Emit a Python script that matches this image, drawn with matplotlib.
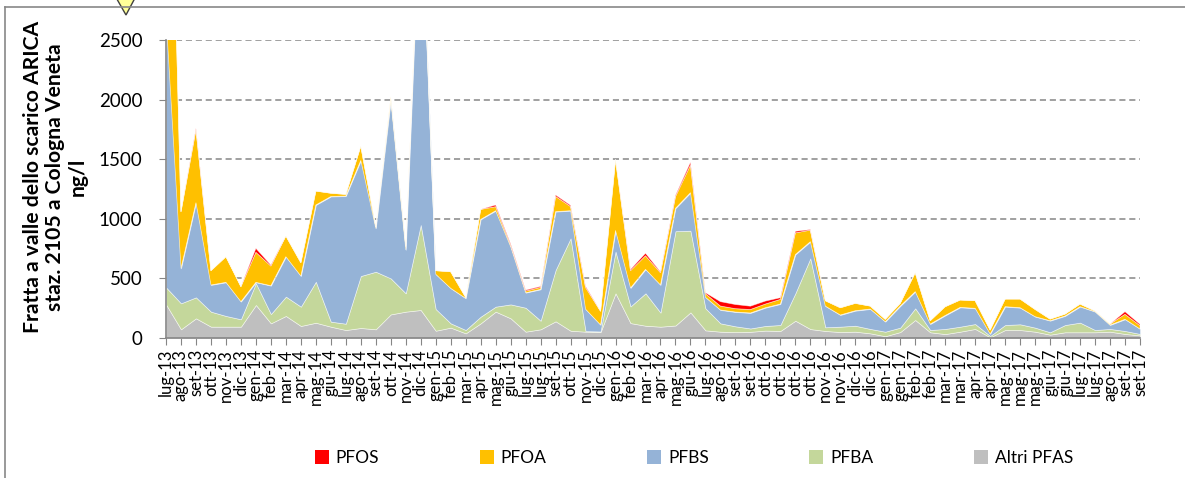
import numpy as np
import matplotlib
matplotlib.use('Agg')
import matplotlib.pyplot as plt
from matplotlib.patches import Polygon, Patch
from matplotlib.lines import Line2D

plt.rcParams['font.family'] = ['Lato', 'DejaVu Sans']

# month labels (as printed on the axis)
months = ['lug-13', 'ago-13', 'set-13', 'ott-13', 'nov-13', 'dic-13',
          'gen-14', 'feb-14', 'mar-14', 'apr-14', 'mag-14', 'giu-14',
          'lug-14', 'ago-14', 'set-14', 'ott-14', 'nov-14', 'dic-14',
          'gen-15', 'feb-15', 'mar-15', 'apr-15', 'mag-15', 'giu-15',
          'lug-15', 'lug-15', 'set-15', 'ott-15', 'nov-15', 'dic-15',
          'gen-16', 'feb-16', 'mar-16', 'apr-16', 'mag-16', 'giu-16',
          'lug-16', 'ago-16', 'set-16', 'set-16', 'ott-16', 'ott-16',
          'ott-16', 'ott-16', 'nov-16', 'nov-16', 'dic-16', 'dic-16',
          'gen-17', 'gen-17', 'feb-17', 'feb-17', 'mar-17', 'mar-17',
          'apr-17', 'apr-17', 'mag-17', 'mag-17', 'mag-17', 'giu-17',
          'giu-17', 'lug-17', 'lug-17', 'ago-17', 'set-17', 'set-17']

# ng/l
altri = [282, 73, 165, 95, 95, 95, 277, 123, 185, 101, 128, 95, 67, 84,
         73, 198, 221, 235, 61, 87, 39, 123, 221, 165, 53, 73, 140, 61,
         53, 50, 375, 125, 103, 95, 105, 215, 64, 53, 49, 52, 62, 59,
         145, 75, 59, 50, 53, 39, 15, 50, 151, 48, 33, 53, 76, 6,
         67, 67, 53, 28, 48, 48, 48, 53, 34, 22]
pfba = [143, 218, 176, 126, 90, 62, 182, 78, 162, 162, 344, 42, 53, 436,
        483, 302, 154, 713, 182, 36, 28, 56, 42, 117, 201, 72, 430, 775,
        5, 5, 350, 140, 272, 118, 791, 685, 185, 70, 49, 28, 39, 50,
        230, 593, 31, 45, 50, 37, 38, 37, 98, 19, 43, 42, 41, 11,
        42, 48, 34, 20, 61, 81, 19, 23, 25, 12]
pfbs = [2275, 293, 794, 224, 282, 148, 8, 238, 335, 257, 644, 1050, 1071, 970,
        364, 1496, 365, 2850, 292, 294, 266, 816, 805, 484, 126, 263, 490, 232,
        184, 55, 177, 155, 201, 232, 192, 319, 93, 112, 120, 130, 153, 176,
        325, 140, 178, 98, 126, 167, 84, 181, 140, 50, 113, 162, 132, 17,
        154, 139, 92, 97, 76, 134, 154, 33, 98, 42]
pfoa = [3300, 476, 614, 120, 215, 126, 252, 165, 174, 112, 117, 28, 14, 120,
        14, 28, 30, 50, 30, 139, 8, 84, 34, 14, 14, 17, 128, 35,
        182, 115, 595, 145, 114, 103, 98, 232, 30, 33, 28, 29, 31, 39,
        182, 97, 45, 61, 62, 25, 20, 23, 159, 28, 74, 62, 64, 33,
        64, 73, 61, 14, 16, 22, 6, 8, 42, 28]
pfos = [0, 0, 10, 0, 0, 0, 33, 8, 0, 0, 0, 0, 0, 0,
        0, 0, 0, 0, 0, 0, 0, 0, 14, 10, 8, 8, 12, 10,
        10, 0, 0, 10, 21, 7, 10, 23, 8, 37, 35, 28, 25, 14,
        13, 5, 0, 0, 0, 0, 0, 0, 0, 0, 0, 0, 0, 0,
        0, 0, 0, 0, 0, 0, 0, 0, 22, 11]

names = ['PFOS', 'PFOA', 'PFBS', 'PFBA', 'Altri PFAS']
colors = {'PFOS': '#FF0000', 'PFOA': '#FFC000', 'PFBS': '#95B3D7',
          'PFBA': '#C4D79B', 'Altri PFAS': '#BFBFBF'}

fig = plt.figure(figsize=(11.85, 4.78), dpi=100)
W, H = 1185, 478
ax = fig.add_axes([166 / W, 1 - 338 / H, (1140 - 166) / W, 298 / H])

x = np.arange(len(months))
ax.stackplot(x, altri, pfba, pfbs, pfoa, pfos,
             colors=[colors['Altri PFAS'], colors['PFBA'], colors['PFBS'],
                     colors['PFOA'], colors['PFOS']],
             edgecolor=(1, 1, 1, 0.6), linewidth=0.5, zorder=2)

ax.set_xlim(0, len(months) - 1)
ax.set_ylim(0, 2500)
ax.set_yticks(np.arange(0, 2501, 500))
ax.set_xticks(x)
ax.set_xticklabels(months, rotation=90, fontsize=12, va='top')
ax.tick_params(axis='y', labelsize=13.5, length=5, color='#868686', pad=12)
ax.tick_params(axis='x', length=5, color='#868686', pad=3)

for v in range(500, 2501, 500):
    ax.axhline(v, color='#868686', lw=1.1, ls=(0, (4, 2.5)), zorder=1)

for s in ['top', 'right']:
    ax.spines[s].set_visible(False)
for s in ['left', 'bottom']:
    ax.spines[s].set_color('#868686')
    ax.spines[s].set_linewidth(1.2)
    ax.spines[s].set_zorder(3)

fig.text(55 / W, 1 - 177 / H,
         'Fratta a valle dello scarico ARICA\nstaz. 2105 a Cologna Veneta\nng/l',
         rotation=90, ha='center', va='center', multialignment='center',
         fontsize=15.2, fontweight='bold', linespacing=1.15)

handles = [Patch(facecolor=colors[n], edgecolor='none') for n in names]
fig.legend(handles, names, loc='center', ncol=5, frameon=False,
           bbox_to_anchor=(694 / W, 1 - 458 / H), fontsize=12.5,
           handlelength=0.8, handleheight=0.8, handletextpad=0.4,
           columnspacing=5.8)

# chart frame and the callout marker at the top
fig.add_artist(Line2D([5 / W, 5 / W], [0, 1 - 7 / H], color='#888888', lw=1.2))
fig.add_artist(Line2D([5 / W, 1], [1 - 7 / H, 1 - 7 / H], color='#888888', lw=1.2))
tri = Polygon([[112 / W, 1.02], [139 / W, 1.02], [126 / W, 1 - 15 / H]],
              closed=True, facecolor='#FFFF99', edgecolor='#404040', lw=1,
              transform=fig.transFigure, clip_on=False)
fig.add_artist(tri)

fig.savefig('out.png', dpi=100)
